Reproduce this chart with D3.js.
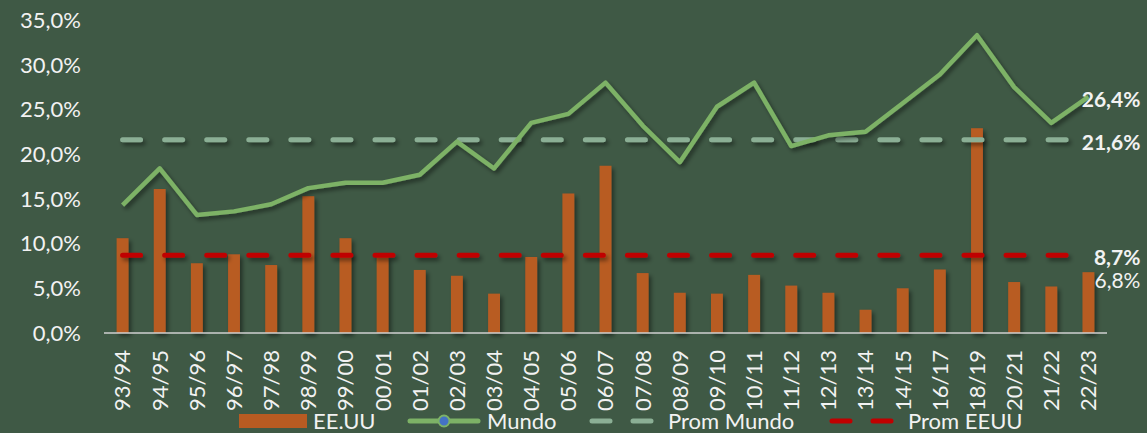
<!DOCTYPE html>
<html><head><meta charset="utf-8">
<script src="https://cdn.jsdelivr.net/npm/d3@7"></script>
<style>
html,body{margin:0;padding:0;background:#3F5945;}
svg{display:block;}
text{font-family:Lato,"Open Sans",sans-serif;fill:#F2F2F2;}
</style></head><body>
<svg id="c" width="1147" height="433"></svg>
<script>
const categories = ["93/94","94/95","95/96","96/97","97/98","98/99","99/00","00/01","01/02","02/03","03/04","04/05","05/06","06/07","07/08","08/09","09/10","10/11","11/12","12/13","13/14","14/15","16/17","18/19","20/21","21/22","22/23"];
const eeuu = [10.6,16.1,7.8,8.8,7.6,15.3,10.6,8.6,7.05,6.4,4.4,8.5,15.6,18.7,6.7,4.5,4.4,6.5,5.3,4.5,2.6,5.0,7.1,22.9,5.7,5.2,6.8];
const mundo = [14.3,18.4,13.2,13.6,14.4,16.2,16.8,16.8,17.7,21.4,18.4,23.5,24.5,28.0,23.2,19.1,25.3,28.0,20.9,22.1,22.5,25.7,28.9,33.3,27.5,23.5,26.4];
const promMundo = 21.6;
const promEEUU = 8.7;
const yTicks = [0,5,10,15,20,25,30,35];
const legendLabels = ["EE.UU","Mundo","Prom Mundo","Prom EEUU"];

const C = {bg:"#3F5945", bar:"#B85B22", line:"#7DB266", pm:"#8BAF95", pe:"#C00000", axis:"#D0D0D0", marker:"#4472C4"};
const svg = d3.select("#c");
const defs = svg.append("defs");
const f = defs.append("filter").attr("id","sh").attr("filterUnits","userSpaceOnUse")
  .attr("x",0).attr("y",0).attr("width",1147).attr("height",433);
f.append("feDropShadow").attr("dx",2.5).attr("dy",3).attr("stdDeviation",2).attr("flood-color","#000").attr("flood-opacity",0.45);

const x = d3.scaleBand().domain(categories).range([104,1107]).paddingInner(0.68).paddingOuter(0.34);
const y = d3.scaleLinear().domain([0,35]).range([333,20]);
const cx = d => x(d) + x.bandwidth()/2;
const fmt = v => d3.format(".1f")(v).replace(".",",") + "%";
const FS = "22px";

// y axis labels
svg.append("g").selectAll("text").data(yTicks).join("text")
  .attr("x",81).attr("y",d=>y(d)).attr("dy","0.36em").attr("text-anchor","end")
  .style("font-size",FS).text(fmt);

// bars
svg.append("g").attr("filter","url(#sh)").selectAll("rect").data(eeuu).join("rect")
  .attr("x",(d,i)=>x(categories[i])).attr("width",x.bandwidth())
  .attr("y",d=>y(d)).attr("height",d=>y(0)-y(d)).attr("fill",C.bar);

// axis line
svg.append("line").attr("x1",x.range()[0]).attr("x2",x.range()[1]).attr("y1",y(0)).attr("y2",y(0))
  .attr("stroke",C.axis).attr("stroke-width",1.5);

// x labels
svg.append("g").selectAll("text").data(categories).join("text")
  .attr("transform",d=>`translate(${cx(d)},${y(0)+17}) rotate(-90)`)
  .attr("text-anchor","end").attr("dy","0.36em").style("font-size",FS).text(d=>d);

// average lines
const x0 = cx(categories[0]), x1 = cx(categories[categories.length-1]) - 4;
[[promMundo,C.pm],[promEEUU,C.pe]].forEach(([v,col])=>{
  svg.append("line").attr("x1",x0).attr("x2",x1).attr("y1",y(v)).attr("y2",y(v))
    .attr("stroke",col).attr("stroke-width",5).attr("stroke-linecap","round")
    .attr("stroke-dasharray","18,24.07").attr("filter","url(#sh)");
});

// mundo line
svg.append("path").datum(mundo).attr("fill","none").attr("stroke",C.line).attr("stroke-width",4.5)
  .attr("stroke-linejoin","round").attr("filter","url(#sh)")
  .attr("d",d3.line().x((d,i)=>cx(categories[i])).y(d=>y(d)));

// end labels
const lx = cx(categories[categories.length-1]) + 52;
const lab = [[mundo[mundo.length-1], y(mundo[mundo.length-1])+3, "bold"],[promMundo, y(promMundo)+3, "bold"],[promEEUU, y(promEEUU)+2, "bold"],[eeuu[eeuu.length-1], y(eeuu[eeuu.length-1])+8, "normal"]];
svg.append("g").selectAll("text").data(lab).join("text")
  .attr("x",lx).attr("y",d=>d[1]).attr("dy","0.36em").attr("text-anchor","end")
  .style("font-size","21px").style("font-weight",d=>d[2]).text(d=>fmt(d[0]));

// legend
const ly = 421;
const lg = svg.append("g");
lg.append("rect").attr("x",239).attr("y",ly-7).attr("width",68).attr("height",14).attr("fill",C.bar);
lg.append("text").attr("x",313).attr("y",ly).attr("dy","0.36em").style("font-size",FS).text(legendLabels[0]);
lg.append("line").attr("x1",410).attr("x2",478).attr("y1",ly).attr("y2",ly).attr("stroke",C.line).attr("stroke-width",5).attr("stroke-linecap","round");
lg.append("circle").attr("cx",444).attr("cy",ly).attr("r",5.5).attr("fill",C.marker).attr("stroke",C.line).attr("stroke-width",2);
lg.append("text").attr("x",487).attr("y",ly).attr("dy","0.36em").style("font-size",FS).text(legendLabels[1]);
[[592,C.pm,668,legendLabels[2]],[832,C.pe,908,legendLabels[3]]].forEach(([sx,col,tx,t])=>{
  lg.append("line").attr("x1",sx).attr("x2",sx+63).attr("y1",ly).attr("y2",ly).attr("stroke",col).attr("stroke-width",5)
    .attr("stroke-linecap","round").attr("stroke-dasharray","18,23");
  lg.append("text").attr("x",tx).attr("y",ly).attr("dy","0.36em").style("font-size",FS).text(t);
});
</script></body></html>
